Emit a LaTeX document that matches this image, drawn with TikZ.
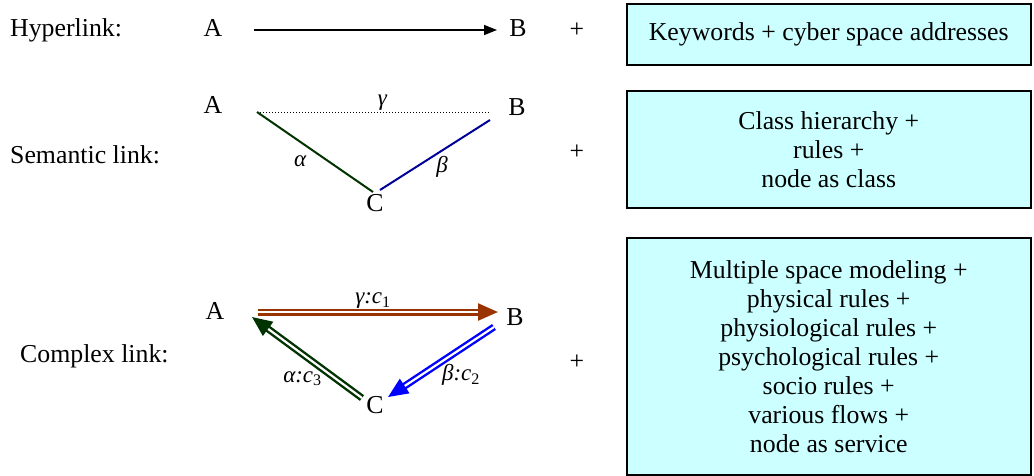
\documentclass[tikz,border=0pt]{standalone}
\usepackage{fontspec}
\setmainfont{Liberation Serif}
\usetikzlibrary{arrows.meta}
\definecolor{linkbrown}{HTML}{993300}
\definecolor{linkgreen}{HTML}{003300}
\definecolor{linknavy}{HTML}{000099}
\definecolor{boxcyan}{HTML}{CCFFFF}

\begin{document}
\begin{tikzpicture}[x=1pt, y=-1pt, font=\fontsize{25.8}{29}\selectfont,
    descbox/.style={draw, line width=1.5pt, fill=boxcyan, align=center, anchor=north west, minimum width=404pt},
    kindlabel/.style={anchor=west, inner sep=0pt},
    linklabel/.style={text=black, font=\fontsize{23}{26}\selectfont\itshape},
    dbl/.style={double, double distance=2.2pt, line width=2.4pt, -{Triangle[length=20pt,width=17pt]}}]
    \useasboundingbox (0,0) rectangle (1034,475);

    % hyperlink
    \node[kindlabel] (hyplabel) at (10,30) {Hyperlink:};
    \node (hypA) at (213,28) {A};
    \node (hypB) at (518,28) {B};
    \node (hypplus) at (577,30) {+};
    \node[descbox, minimum height=61pt] (hypbox) at (626,3) {Keywords + cyber space addresses};
    \coordinate (hypfrom) at (254,30);
    \coordinate (hypto) at (497,30);
    \draw[line width=1.5pt, -{Triangle[length=13pt,width=10pt]}] (hypfrom) -- (hypto);

    % semantic link
    \node[kindlabel] (semlabel) at (10,155) {Semantic link:};
    \node (semA) at (213,105) {A};
    \node (semB) at (517,107) {B};
    \node (semC) at (375,203) {C};
    \node (semplus) at (577,152) {+};
    \node[descbox, minimum height=117pt] (sembox) at (626,90) {Class hierarchy +\\rules +\\node as class};
    \coordinate (semAend) at (257,112);
    \coordinate (semBend) at (490,112);
    \coordinate (semBlow) at (490,120);
    \coordinate (semCleft) at (373,192);
    \coordinate (semCright) at (380,190);
    \draw[dotted, line width=1pt] (semAend) -- (semBend) node[linklabel, midway, above=-2pt, xshift=9pt] (semgamma) {γ};
    \draw[linkgreen, line width=2pt] (semAend) -- (semCleft) node[linklabel, pos=0.45, below=3pt, xshift=-9pt] (semalpha) {α};
    \draw[linknavy, line width=2pt] (semCright) -- (semBlow) node[linklabel, pos=0.5, below right=-3pt] (sembeta) {β};

    % complex link
    \node[kindlabel] (cxlabel) at (20,356) {Complex link:};
    \node (cxA) at (215,311) {A};
    \node (cxB) at (515,317) {B};
    \node (cxC) at (375,405) {C};
    \node (cxplus) at (577,362) {+};
    \node[descbox, minimum height=237pt] (cxbox) at (626,237) {Multiple space modeling +\\physical rules +\\physiological rules +\\psychological rules +\\socio rules +\\various flows +\\node as service};
    \coordinate (cxAout) at (258,312);
    \coordinate (cxBin) at (498,312);
    \coordinate (cxBout) at (494,327);
    \coordinate (cxCin) at (388,397);
    \coordinate (cxCout) at (362,398);
    \coordinate (cxAin) at (252,317);
    \draw[dbl, linkbrown] (cxAout) -- (cxBin) node[linklabel, midway, above=-1pt, xshift=-5pt] (cxgamma) {γ:c\textsubscript{\upshape 1}};
    \draw[dbl, blue] (cxBout) -- (cxCin) node[linklabel, pos=0.5, below=-2pt, xshift=20pt] (cxbeta) {β:c\textsubscript{\upshape 2}};
    \draw[dbl, linkgreen] (cxCout) -- (cxAin) node[linklabel, pos=0.35, below=-3pt, xshift=-21pt] (cxalpha) {α:c\textsubscript{\upshape 3}};
\end{tikzpicture}
\end{document}
